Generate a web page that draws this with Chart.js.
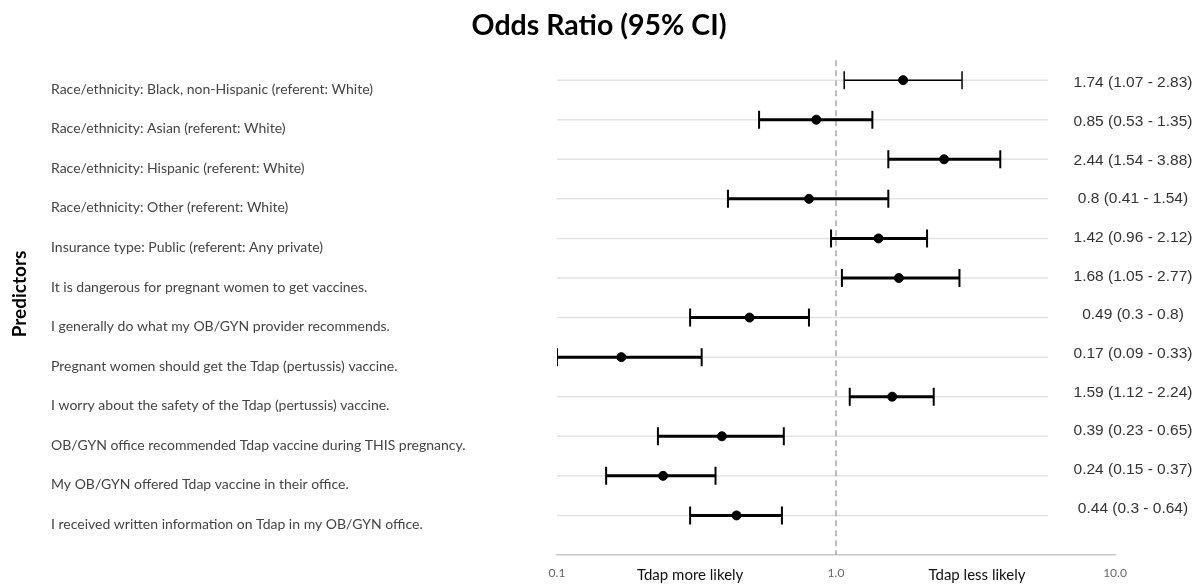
<!DOCTYPE html>
<html lang="en">
<head>
  <meta charset="UTF-8" />
  <title>Odds Ratio (95% CI)</title>
  <script src="https://cdn.jsdelivr.net/npm/chart.js"></script>
  <style>
    html, body {
      margin: 0;
      padding: 0;
      background: #ffffff;
    }
    canvas {
      display: block;
    }
  </style>
</head>
<body>
  <canvas id="forestChart" width="1200" height="585"></canvas>

  <script>
    const predictors = [
      'Race/ethnicity: Black, non-Hispanic (referent: White)',
      'Race/ethnicity: Asian (referent: White)',
      'Race/ethnicity: Hispanic (referent: White)',
      'Race/ethnicity: Other (referent: White)',
      'Insurance type: Public (referent: Any private)',
      'It is dangerous for pregnant women to get vaccines.',
      'I generally do what my OB/GYN provider recommends.',
      'Pregnant women should get the Tdap (pertussis) vaccine.',
      'I worry about the safety of the Tdap (pertussis) vaccine.',
      'OB/GYN office recommended Tdap vaccine during THIS pregnancy.',
      'My OB/GYN offered Tdap vaccine in their office.',
      'I received written information on Tdap in my OB/GYN office.'
    ];
    const oddsRatios = [1.74, 0.85, 2.44, 0.8, 1.42, 1.68, 0.49, 0.17, 1.59, 0.39, 0.24, 0.44];
    const ciLower    = [1.07, 0.53, 1.54, 0.41, 0.96, 1.05, 0.3, 0.09, 1.12, 0.23, 0.15, 0.3];
    const ciUpper    = [2.83, 1.35, 3.88, 1.54, 2.12, 2.77, 0.8, 0.33, 2.24, 0.65, 0.37, 0.64];

    const xMin = 0.1;
    const xMax = 10;
    const xTickValues = [0.1, 0.3, 1, 3.2, 10];
    const xTickLabels = ['0.1', 'Tdap more likely', '1.0', 'Tdap less likely', '10.0'];

    // one line per row: whisker with vertical caps at both ends
    const whiskers = predictors.map((_, i) => ({
      type: 'line',
      data: [
        { x: Math.max(ciLower[i], xMin), y: i + 1 },
        { x: Math.min(ciUpper[i], xMax), y: i + 1 }
      ],
      borderColor: '#000',
      borderWidth: i === 0 ? 1.5 : 3,
      pointStyle: 'line',
      rotation: 90,
      pointRadius: 9,
      pointBorderWidth: i === 0 ? 1.5 : 2,
      pointBorderColor: '#000',
      showLine: true,
      tension: 0
    }));

    const estimates = {
      type: 'scatter',
      data: oddsRatios.map((v, i) => ({ x: v, y: i + 1 })),
      backgroundColor: '#000',
      borderColor: '#000',
      pointRadius: 4.5
    };

    const decorations = {
      id: 'decorations',
      beforeDatasetsDraw(chart) {
        const { ctx, chartArea, scales } = chart;
        const gridRight = chartArea.left + (chartArea.right - chartArea.left) * 0.88;
        ctx.save();
        ctx.strokeStyle = '#e3e3e3';
        ctx.lineWidth = 1.5;
        predictors.forEach((_, i) => {
          const y = scales.y.getPixelForValue(i + 1);
          ctx.beginPath();
          ctx.moveTo(chartArea.left, y);
          ctx.lineTo(gridRight, y);
          ctx.stroke();
        });
        const x1 = scales.x.getPixelForValue(1);
        ctx.strokeStyle = '#a8a8a8';
        ctx.lineWidth = 1.5;
        ctx.setLineDash([6, 4]);
        ctx.beginPath();
        ctx.moveTo(x1, chartArea.top);
        ctx.lineTo(x1, chartArea.bottom);
        ctx.stroke();
        ctx.restore();
      },
      afterDraw(chart) {
        const { ctx, chartArea, scales } = chart;
        ctx.save();
        ctx.fillStyle = '#333';
        ctx.font = '15.5px "Liberation Sans", Arial, sans-serif';
        ctx.textAlign = 'center';
        ctx.textBaseline = 'middle';
        const n = predictors.length - 1;
        predictors.forEach((_, i) => {
          const y = scales.y.getPixelForValue(i + 1) + 3 - 10 * i / n;
          ctx.fillText(`${oddsRatios[i]} (${ciLower[i]} - ${ciUpper[i]})`, chartArea.right + 18, y);
        });
        ctx.translate(20, 294);
        ctx.rotate(-Math.PI / 2);
        ctx.fillStyle = '#000';
        ctx.font = 'bold 19px Lato, sans-serif';
        ctx.fillText('Predictors', 0, 0);
        ctx.restore();
      }
    };

    new Chart(document.getElementById('forestChart'), {
      data: { datasets: [...whiskers, estimates] },
      options: {
        responsive: false,
        animation: false,
        devicePixelRatio: 1,
        layout: { padding: { left: 51, right: 53, top: 0, bottom: 1 } },
        plugins: {
          legend: { display: false },
          tooltip: { enabled: false },
          title: {
            display: true,
            text: 'Odds Ratio (95% CI)',
            color: '#000',
            font: { family: 'Lato', size: 28.5, weight: 'bold', lineHeight: 1.1 },
            padding: { top: 10, bottom: 19 }
          }
        },
        scales: {
          x: {
            type: 'logarithmic',
            min: xMin,
            max: xMax,
            afterBuildTicks: (axis) => { axis.ticks = xTickValues.map(v => ({ value: v })); },
            afterFit: (axis) => { axis.height = 29; },
            grid: { display: false, drawTicks: false },
            border: { display: true, color: '#c8c8c8', width: 1.5 },
            ticks: {
              autoSkip: false,
              maxRotation: 0,
              padding: 11,
              callback: (value, index) => xTickLabels[index],
              color: (c) => (c.index % 2 === 1 ? '#111' : '#666'),
              font: (c) => (c.index % 2 === 1
                ? { family: 'Lato', size: 15 }
                : { family: 'Lato', size: 12 })
            }
          },
          y: {
            type: 'linear',
            reverse: true,
            min: 0.5,
            max: 13,
            afterBuildTicks: (axis) => { axis.ticks = predictors.map((_, i) => ({ value: i + 1 })); },
            afterFit: (axis) => { axis.width = 506; },
            grid: { display: false, drawTicks: false },
            border: { display: false },
            ticks: {
              autoSkip: false,
              crossAlign: 'far',
              labelOffset: 9,
              color: '#444',
              font: { family: 'Lato', size: 14 },
              callback: (value) => predictors[value - 1]
            }
          },
          // empty right-hand axis, only reserves room for the value labels
          yRight: {
            type: 'linear',
            position: 'right',
            afterFit: (axis) => { axis.width = 32; },
            grid: { display: false, drawTicks: false },
            border: { display: false },
            ticks: { display: false }
          }
        }
      },
      plugins: [decorations]
    });
  </script>
</body>
</html>
